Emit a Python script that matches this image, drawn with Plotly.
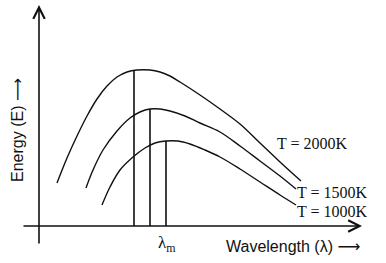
import plotly.graph_objects as go

# Wavelength / energy samples (arbitrary units)
wl_2000 = [1.8, 2.8, 3.8, 4.8, 5.8, 6.8, 7.8, 8.8, 9.8, 11.1, 12.1, 13.1, 14.1, 16.1, 18.1, 20.1, 22.1, 24.1, 26.2]
en_2000 = [4.3, 6.8, 9.0, 11.0, 12.7, 14.0, 14.9, 15.4, 15.6, 15.6, 15.4, 15.0, 14.4, 13.1, 11.7, 10.2, 8.3, 6.4, 4.5]

wl_1500 = [4.7, 5.4, 6.4, 7.8, 9.1, 10.1, 11.1, 12.1, 13.1, 14.6, 16.1, 18.1, 20.1, 22.1, 24.1, 25.7]
en_1500 = [3.8, 5.6, 7.6, 9.5, 10.8, 11.4, 11.7, 11.7, 11.5, 11.0, 10.3, 9.4, 8.0, 6.5, 5.0, 3.7]

wl_1000 = [6.3, 7.1, 8.1, 9.4, 10.6, 11.6, 12.7, 13.9, 15.1, 16.6, 18.1, 20.1, 22.1, 24.1, 25.7]
en_1000 = [2.1, 3.9, 5.6, 6.9, 7.8, 8.3, 8.5, 8.5, 8.2, 7.6, 6.9, 5.7, 4.4, 3.1, 2.1]

# lambda_max markers (x position, height)
lam_max = [9.5, 11.1, 12.7]
lam_top = [15.6, 11.7, 8.5]

labels = ["T = 2000K", "T = 1500K", "T = 1000K"]
label_x = [27.3, 29.3, 29.3]
label_y = [8.3, 3.4, 1.5]

INK = "#111"
fig = go.Figure()
for wl, en in [(wl_2000, en_2000), (wl_1500, en_1500), (wl_1000, en_1000)]:
    fig.add_trace(go.Scatter(x=wl, y=en, mode="lines",
                             line=dict(color=INK, width=1.4, shape="spline", smoothing=1.0),
                             hoverinfo="skip"))
for lx, ly in zip(lam_max, lam_top):
    fig.add_trace(go.Scatter(x=[lx, lx], y=[0, ly], mode="lines",
                             line=dict(color=INK, width=1.6), hoverinfo="skip"))

ann = []
# axes with open (chevron) arrowheads
ann.append(dict(x=32.3, y=0, ax=-1.7, ay=0, xref="x", yref="y",
                axref="x", ayref="y", text="", showarrow=True, arrowhead=5,
                arrowwidth=1.6, arrowsize=1.4, arrowcolor=INK))
ann.append(dict(x=0, y=22.1, ax=0, ay=-1.9, xref="x", yref="y",
                axref="x", ayref="y", text="", showarrow=True, arrowhead=5,
                arrowwidth=1.6, arrowsize=1.4, arrowcolor=INK))
for t, lx, ly in zip(labels, label_x, label_y):
    ann.append(dict(x=lx, y=ly, xref="x", yref="y", text=t, showarrow=False,
                    font=dict(family="Liberation Serif", size=16, color=INK)))
ann.append(dict(x=-2.2, y=9.6, xref="x", yref="y", text="Energy (E) ⟶", textangle=-90,
                showarrow=False, font=dict(family="Liberation Sans, DejaVu Sans", size=16, color=INK)))
ann.append(dict(x=25.4, y=-2.0, xref="x", yref="y", text="Wavelength (λ) ⟶",
                showarrow=False, font=dict(family="Liberation Sans, DejaVu Sans", size=16, color=INK)))
ann.append(dict(x=12.8, y=-1.8, xref="x", yref="y", text="λ<sub>m</sub>",
                showarrow=False, font=dict(family="Liberation Serif", size=17, color=INK)))

fig.update_layout(
    width=386, height=263, autosize=False,
    margin=dict(l=0, r=0, t=0, b=0),
    paper_bgcolor="white", plot_bgcolor="white",
    showlegend=False,
    xaxis=dict(range=[-3.9, 34.7], visible=False),
    yaxis=dict(range=[-3.7, 22.6], visible=False),
    annotations=ann,
)
fig.write_html("out.html")
